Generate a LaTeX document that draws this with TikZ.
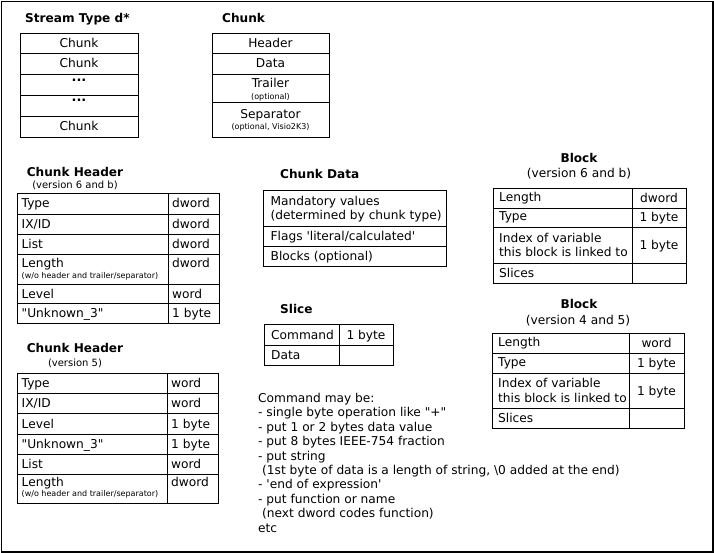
\documentclass[tikz,border=0pt]{standalone}
\usepackage{fontspec}
\setmainfont{DejaVu Sans}[Ligatures=TeXOff]
\tikzset{
  x=1pt, y=-1pt,
  cellbox/.style={draw=black, line width=0.8pt, anchor=north west, inner sep=0pt, outer sep=0pt},
  txt/.style={inner sep=0pt, text=black, font=\fontsize{12.2}{14.4}\selectfont, text height=10.5pt, text depth=1.5pt},
  txtm/.style={inner sep=0pt, text=black, font=\fontsize{12.2}{14.4}\selectfont, align=left},
  smalltxt/.style={inner sep=0pt, text=black, font=\fontsize{8}{9}\selectfont, text height=5.8pt, text depth=1.6pt},
  ttl/.style={inner sep=0pt, text=black, font=\bfseries\fontsize{12.1}{14}\selectfont, text height=10.5pt, text depth=1.5pt},
  subtxt/.style={inner sep=0pt, text=black, font=\fontsize{10}{12}\selectfont, text height=8pt, text depth=1.5pt},
  frame/.style={draw=black, line width=1.5pt},
}
\newcommand\cbox[5]{\node[cellbox, minimum width={#4-#2}, minimum height={#5-#3}] (#1) at (#2,#3) {};}
% two-column row, both texts left aligned
\newcommand\rowL[8]{%
  \cbox{#1l}{#2}{#5}{#3}{#6}
  \cbox{#1r}{#3}{#5}{#4}{#6}
  \node[txt, anchor=west] (#1lt) at ([xshift=4.5pt]#1l.west) {#7};
  \node[txt, anchor=west] (#1rt) at ([xshift=4pt]#1r.west) {#8};}
% two-column row, right text centred
\newcommand\rowC[8]{%
  \cbox{#1l}{#2}{#5}{#3}{#6}
  \cbox{#1r}{#3}{#5}{#4}{#6}
  \node[txtm, anchor=west] (#1lt) at ([xshift=6pt]#1l.west) {#7};
  \node[txt] (#1rt) at (#1r.center) {#8};}
\begin{document}
\begin{tikzpicture}
\useasboundingbox (0,0) rectangle (714,553);
\node[draw=none, inner sep=0pt, minimum width=711.5pt, minimum height=550.5pt, anchor=north west, frame] (frm) at (0.75,0.75) {};

% ---------- Stream Type d*
\node[ttl, anchor=west] (stTitle) at (25,18) {Stream Type d*};
\cbox{s1}{20}{33}{138}{53}
\cbox{s2}{20}{53}{138}{74}
\cbox{s3}{20}{74}{138}{95}
\cbox{s4}{20}{95}{138}{116}
\cbox{s5}{20}{116}{138}{137}
\node[txt] (s1t) at (s1.center) {Chunk};
\node[txt] (s2t) at (s2.center) {Chunk};
\node[inner sep=0pt, font=\bfseries\fontsize{13}{14}\selectfont, anchor=base] (s3t) at (79,82) {...};
\node[inner sep=0pt, font=\bfseries\fontsize{13}{14}\selectfont, anchor=base] (s4t) at (79,102) {...};
\node[txt] (s5t) at (s5.center) {Chunk};

% ---------- Chunk
\node[ttl, anchor=west] (chTitle) at (222,18) {Chunk};
\cbox{c1}{212}{33}{329}{53}
\cbox{c2}{212}{53}{329}{74}
\cbox{c3}{212}{74}{329}{102}
\cbox{c4}{212}{102}{329}{137}
\node[txt] (c1t) at (c1.center) {Header};
\node[txt] (c2t) at (c2.center) {Data};
\node[txt] (c3t) at (270.5,83.5) {Trailer};
\node[smalltxt] (c3s) at (270.5,97) {(optional)};
\node[txt] (c4t) at (270.5,114) {Separator};
\node[smalltxt] (c4s) at (270.5,127) {(optional, Visio2K3)};

% ---------- Chunk Header (version 6 and b)
\node[ttl] (h6Title) at (75,172) {Chunk Header};
\node[subtxt] (h6Sub) at (75,185) {(version 6 and b)};
\rowL{ha}{17}{168}{219}{193}{214}{Type}{dword}
\rowL{hb}{17}{168}{219}{214}{234}{IX/ID}{dword}
\rowL{hc}{17}{168}{219}{234}{254}{List}{dword}
\cbox{hdl}{17}{254}{168}{284}
\cbox{hdr}{168}{254}{219}{284}
\node[txt, anchor=west] (hdlt) at (21.5,262.8) {Length};
\node[smalltxt, anchor=west] (hdls) at (21.5,276.5) {(w/o header and trailer/separator)};
\node[txt, anchor=west] (hdrt) at (172,262.8) {dword};
\rowL{he}{17}{168}{219}{284}{303}{Level}{word}
\rowL{hf}{17}{168}{219}{303}{323}{"Unknown\_3"}{1 byte}

% ---------- Chunk Header (version 5)
\node[ttl] (h5Title) at (75,348) {Chunk Header};
\node[subtxt] (h5Sub) at (75,363) {(version 5)};
\rowL{ga}{17}{167}{218}{373}{393}{Type}{word}
\rowL{gb}{17}{167}{218}{393}{413}{IX/ID}{word}
\rowL{gc}{17}{167}{218}{413}{434}{Level}{1 byte}
\rowL{gd}{17}{167}{218}{434}{454}{"Unknown\_3"}{1 byte}
\rowL{ge}{17}{167}{218}{454}{474}{List}{word}
\cbox{gfl}{17}{474}{167}{503}
\cbox{gfr}{167}{474}{218}{503}
\node[txt, anchor=west] (gflt) at (21.5,482.3) {Length};
\node[smalltxt, anchor=west] (gfls) at (21.5,494.5) {(w/o header and trailer/separator)};
\node[txt, anchor=west] (gfrt) at (171,482.3) {dword};

% ---------- Chunk Data
\node[ttl, anchor=west] (cdTitle) at (280,174) {Chunk Data};
\cbox{d1}{263}{190}{446}{226}
\cbox{d2}{263}{226}{446}{246}
\cbox{d3}{263}{246}{446}{266}
\node[txtm, anchor=west] (d1t) at ([xshift=7.5pt, yshift=-1pt]d1.west) {Mandatory values\\(determined by chunk type)};
\node[txt, anchor=west] (d2t) at ([xshift=7.5pt]d2.west) {Flags 'literal/calculated'};
\node[txt, anchor=west] (d3t) at ([xshift=7.5pt]d3.west) {Blocks (optional)};

% ---------- Slice
\node[ttl, anchor=west] (slTitle) at (280,309) {Slice};
\cbox{sl1l}{264}{324}{339}{345}
\cbox{sl1r}{339}{324}{393}{345}
\cbox{sl2l}{264}{345}{339}{365}
\cbox{sl2r}{339}{345}{393}{365}
\node[txt, anchor=west] (sl1lt) at ([xshift=7pt]sl1l.west) {Command};
\node[txt] (sl1rt) at (sl1r.center) {1 byte};
\node[txt, anchor=west] (sl2lt) at ([xshift=7pt]sl2l.west) {Data};

% ---------- Block (version 6 and b)
\node[ttl] (b6Title) at (579,158) {Block};
\node[txt] (b6Sub) at (579,173) {(version 6 and b)};
\rowC{ba}{493}{632}{686}{188}{208}{Length}{dword}
\rowC{bb}{493}{632}{686}{208}{227}{Type}{1 byte}
\rowC{bc}{493}{632}{686}{227}{263}{Index of variable\\this block is linked to}{1 byte}
\rowC{bd}{493}{632}{686}{263}{283}{Slices}{}

% ---------- Block (version 4 and 5)
\node[ttl] (b4Title) at (579,304) {Block};
\node[txt] (b4Sub) at (578,320) {(version 4 and 5)};
\rowC{ka}{492}{629}{684}{333}{353}{Length}{word}
\rowC{kb}{492}{629}{684}{353}{373}{Type}{1 byte}
\rowC{kc}{492}{629}{684}{373}{408}{Index of variable\\this block is linked to}{1 byte}
\rowC{kd}{492}{629}{684}{408}{428}{Slices}{}

% ---------- Command notes
\node[inner sep=0pt, anchor=north west, align=left, font=\fontsize{12.2}{14.4}\selectfont] (notes) at (258,393) {%
Command may be:\\
- single byte operation like "+"\\
- put 1 or 2 bytes data value\\
- put 8 bytes IEEE-754 fraction\\
- put string\\
\hspace*{4pt}(1st byte of data is a length of string, \textbackslash 0 added at the end)\\
- 'end of expression'\\
- put function or name\\
\hspace*{4pt}(next dword codes function)\\
etc};
\end{tikzpicture}
\end{document}
